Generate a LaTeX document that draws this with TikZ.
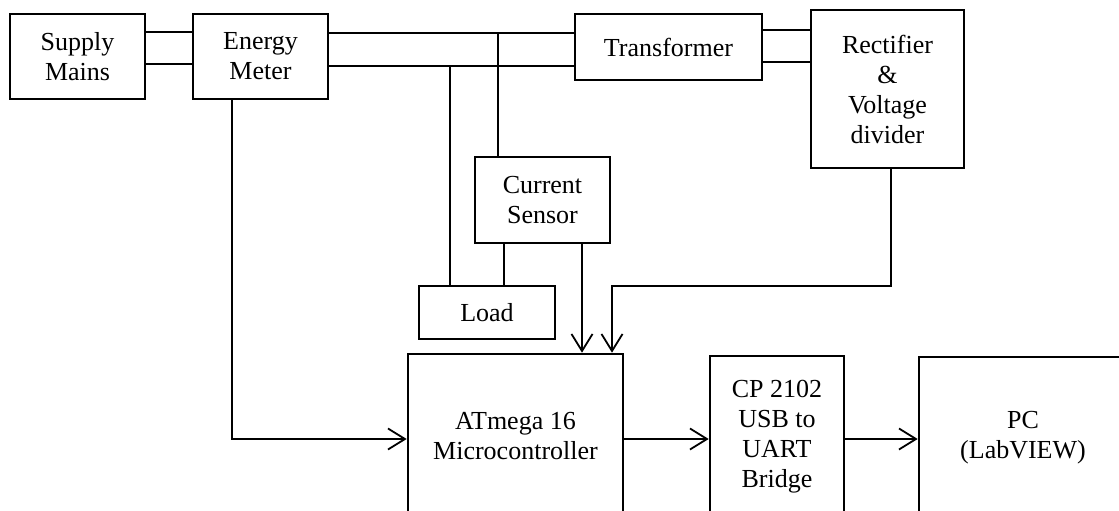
\documentclass[tikz,border=0pt]{standalone}
\usepackage{fontspec}
\setmainfont{Liberation Serif}
\usetikzlibrary{arrows.meta}
\begin{document}
\begin{tikzpicture}[x=1pt,y=-1pt,
  box/.style={draw,line width=2.6pt,align=center,inner sep=0pt,font=\fontsize{26}{30}\selectfont},
  wire/.style={line width=1.8pt},
  arr/.style={wire,-{Straight Barb[length=17pt,width=21pt]}}]
\useasboundingbox (0,0) rectangle (1119,511);
\clip (0,0) rectangle (1119,511);
% top row
\node[box,minimum width=135pt,minimum height=85pt] (supply) at (77.5,56.5) {Supply\\Mains};
\node[box,minimum width=135pt,minimum height=85pt] (meter) at (260.5,56.5) {Energy\\Meter};
\node[box,minimum width=187pt,minimum height=66pt] (trans) at (668.5,47) {Transformer};
\node[box,minimum width=153pt,minimum height=158pt] (rect) at (887.5,89) {Rectifier\\\&\\Voltage\\divider};
\node[box,minimum width=135pt,minimum height=86pt] (sensor) at (542.5,200) {Current\\Sensor};
\node[box,minimum width=136pt,minimum height=53pt] (load) at (487,312.5) {Load};
% bottom row
\node[box,minimum width=215pt,minimum height=164pt] (mcu) at (515.5,436) {ATmega 16\\Microcontroller};
\node[box,minimum width=134pt,minimum height=162pt] (cp) at (777,437) {CP 2102\\USB to\\UART\\Bridge};
\node[box,minimum width=208pt,minimum height=161pt] (pc) at (1023,437.5) {PC\\(LabVIEW)};
% coordinates
\coordinate (bus1) at (498,33);
\coordinate (bus2) at (450,66);
\coordinate (rdown) at (891,286);
\coordinate (rleft) at (612,286);
\coordinate (mdown) at (232,439);
% wires
\draw[wire] (supply.east |- 0,32) -- (meter.west |- 0,32);
\draw[wire] (supply.east |- 0,64) -- (meter.west |- 0,64);
\draw[wire] (meter.east |- 0,33) -- (trans.west |- 0,33);
\draw[wire] (meter.east |- 0,66) -- (trans.west |- 0,66);
\draw[wire] (trans.east |- 0,30) -- (rect.west |- 0,30);
\draw[wire] (trans.east |- 0,62) -- (rect.west |- 0,62);
\draw[wire] (bus1) -- (bus1 |- sensor.north);
\draw[wire] (bus2) -- (bus2 |- load.north);
\draw[wire] (sensor.south -| 504,0) -- (load.north -| 504,0);
% arrows
\draw[arr] (sensor.south -| 582,0) -- (mcu.north -| 582,0);
\draw[arr] (rect.south -| rdown) -- (rdown) -- (rleft) -- (rleft |- mcu.north);
\draw[arr] (meter.south -| mdown) -- (mdown) -- (mdown -| mcu.west);
\draw[arr] (mcu.east |- 0,439) -- (cp.west |- 0,439);
\draw[arr] (cp.east |- 0,439) -- (pc.west |- 0,439);
\end{tikzpicture}
\end{document}
